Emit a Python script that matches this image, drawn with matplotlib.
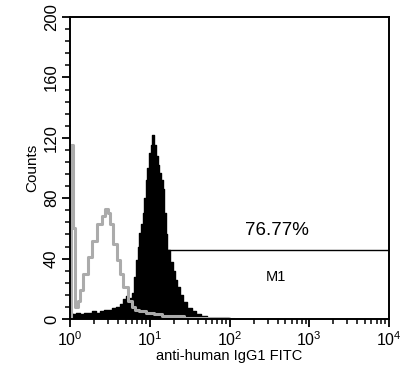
import numpy as np
import matplotlib
matplotlib.use("Agg")
import matplotlib.pyplot as plt
from matplotlib.ticker import MultipleLocator, LogLocator, NullFormatter

plt.rcParams['font.family'] = ['Liberation Sans', 'DejaVu Sans']
plt.rcParams['mathtext.default'] = 'regular'

# isotype control (gray outline), log10 of fluorescence vs counts
ctrl_log = [0.00, 0.03, 0.05, 0.08, 0.11, 0.146, 0.19, 0.25, 0.31, 0.376, 0.42, 0.46,
            0.49, 0.52, 0.56, 0.61, 0.65, 0.69, 0.75, 0.80, 0.84, 0.90, 1.00, 1.10,
            1.20, 1.35, 1.50, 1.70, 1.90, 2.05]
ctrl_counts = [0, 115, 60, 8, 12, 19, 30, 41, 52, 63, 68, 73,
               70, 63, 50, 39, 30, 21, 12, 8, 6, 5, 4, 3,
               2, 2, 1, 1, 1, 0]

# anti-human IgG1 stained sample (black filled)
stain_log = [0.00, 0.05, 0.10, 0.15, 0.20, 0.25, 0.30, 0.35, 0.40, 0.45, 0.50, 0.55,
             0.60, 0.65, 0.69, 0.71, 0.74, 0.77, 0.79, 0.82, 0.84, 0.86, 0.88, 0.90,
             0.92, 0.94, 0.96, 0.98, 1.00, 1.02, 1.045, 1.065, 1.087, 1.11, 1.13, 1.15,
             1.17, 1.19, 1.21, 1.23, 1.27, 1.30, 1.33, 1.36, 1.40, 1.44, 1.50, 1.55,
             1.61, 1.67, 1.75, 1.85, 1.95, 2.05]
stain_counts = [4, 3, 4, 3, 4, 4, 5, 4, 5, 6, 6, 7,
                8, 10, 13, 15, 12, 14, 17, 28, 39, 48, 57, 63,
                70, 80, 92, 100, 110, 115, 122, 115, 108, 102, 97, 92,
                86, 70, 56, 46, 38, 32, 26, 21, 16, 11, 7, 5,
                3, 2, 1, 1, 1, 0]

gate_start = 10 ** 0.91
gate_level = 45.7
gate_pct = "76.77%"
gate_name = "M1"

fig = plt.figure(figsize=(4.01, 3.8), dpi=100)
ax = fig.add_axes([0.1746, 0.1605, 0.7955, 0.7945])

sx = 10 ** np.array(stain_log)
cx = 10 ** np.array(ctrl_log)
ax.fill_between(sx, stain_counts, step='mid', color='black', lw=0)
ax.step(sx, stain_counts, where='mid', color='black', lw=1)
ax.step(cx, ctrl_counts, where='mid', color='#ababab', lw=2.2)

# gate marker
ax.plot([gate_start, 1e4], [gate_level, gate_level], color='black', lw=1)
ax.plot([gate_start, gate_start], [gate_level - 8, gate_level + 7], color='black', lw=1)
ax.plot([1e4, 1e4], [gate_level - 8, gate_level + 7], color='black', lw=1)
ax.text(10 ** 2.6, gate_level + 13, gate_pct, ha='center', va='center', fontsize=13.5)
ax.text(10 ** 2.58, gate_level - 18, gate_name, ha='center', va='center', fontsize=10.5)

ax.set_xscale('log')
ax.set_xlim(1, 1e4)
ax.set_ylim(0, 200)
ax.yaxis.set_major_locator(MultipleLocator(40))
ax.yaxis.set_minor_locator(MultipleLocator(8))
ax.xaxis.set_major_locator(LogLocator(base=10, numticks=10))
ax.xaxis.set_minor_locator(LogLocator(base=10, subs=np.arange(2, 10), numticks=10))
ax.xaxis.set_minor_formatter(NullFormatter())

for lbl in ax.get_yticklabels():
    lbl.set_rotation(90)
    lbl.set_va('center')
ax.tick_params(axis='y', labelsize=12, pad=2)
ax.tick_params(axis='x', labelsize=11.5, pad=2)
ax.tick_params(which='major', length=6, width=1.3, direction='out')
ax.tick_params(which='minor', length=3.5, width=1.1, direction='out')
for s in ax.spines.values():
    s.set_linewidth(1.4)

ax.set_xlabel('anti-human IgG1 FITC', fontsize=10.5, labelpad=0)
ax.set_ylabel('Counts', fontsize=11, labelpad=3)

fig.savefig('out.png', dpi=100)
